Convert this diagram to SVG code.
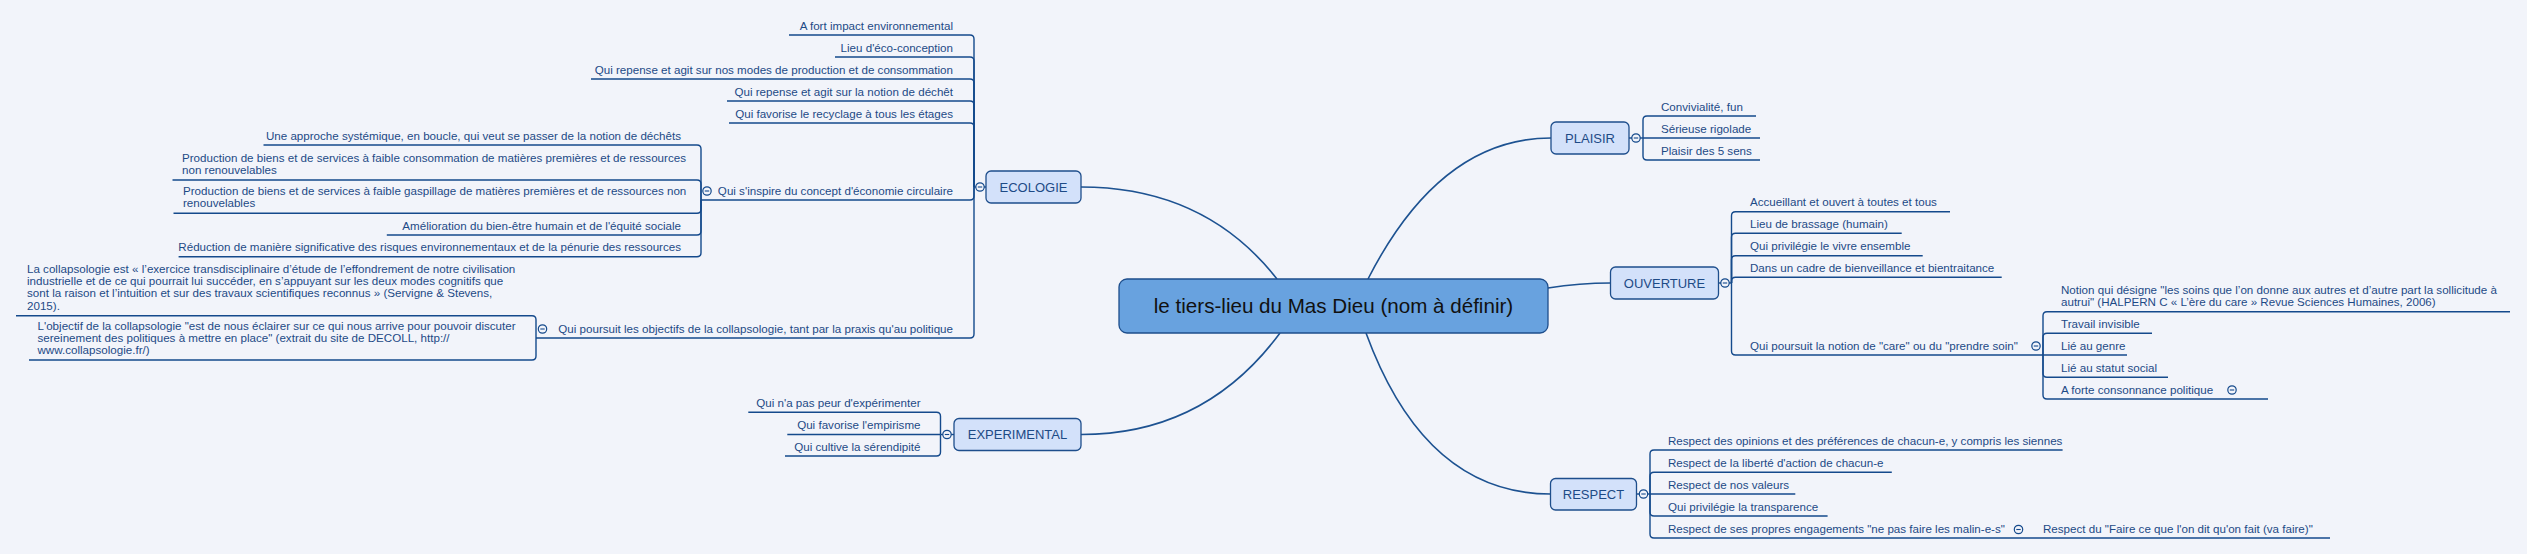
<svg xmlns="http://www.w3.org/2000/svg" width="2527" height="554" viewBox="0 0 2527 554">
<style>
.t{font-family:"Liberation Sans",Arial,sans-serif;font-size:11.6px;fill:#1d4a86}
.e{text-anchor:end}
.ln{fill:none;stroke:#154a8c;stroke-width:1.4}
.cl{fill:none;stroke:#1d5291;stroke-width:1.6}
.box{fill:#d3e1fa;stroke:#1e4e8c;stroke-width:1.3}
.bt{font-family:"Liberation Sans",Arial,sans-serif;font-size:13px;fill:#1d4a86;text-anchor:middle}
.ct{font-family:"Liberation Sans",Arial,sans-serif;font-size:20.6px;fill:#111;text-anchor:middle}
.ci{fill:#f2f4fa;stroke:#154a8c;stroke-width:1.2}
.mi{stroke:#154a8c;stroke-width:1.1}
</style>
<rect width="2527" height="554" fill="#f2f4fa"/>
<g id="connectors">
<path class="cl" d="M1277,279 Q1205,187 1081,187"/>
<path class="cl" d="M1280,333 Q1205,434.5 1081,434.5"/>
<path class="cl" d="M1368,279 Q1440,138 1551,138"/>
<path class="cl" d="M1366,333 Q1425,494 1550.5,494"/>
<path class="cl" d="M1548,288 Q1580,283 1610.5,283"/>
<!-- ECOLOGIE -->
<path class="ln" d="M986,187 H974"/>
<path class="ln" d="M789,35 H970 Q974,35 974,39 V187"/>
<path class="ln" d="M835,57 H970 Q974,57 974,61 V187"/>
<path class="ln" d="M591,79 H970 Q974,79 974,83 V187"/>
<path class="ln" d="M727,101 H970 Q974,101 974,105 V187"/>
<path class="ln" d="M729,123 H970 Q974,123 974,127 V187"/>
<path class="ln" d="M701,200 H970 Q974,200 974,196 V187"/>
<path class="ln" d="M536,338 H970 Q974,338 974,334 V187"/>
<path class="ln" d="M263.5,145 H697 Q701,145 701,149 V200"/>
<path class="ln" d="M172.5,180 H697 Q701,180 701,184 V200"/>
<path class="ln" d="M173.5,213.3 H697 Q701,213.3 701,209.3 V200"/>
<path class="ln" d="M386.8,235 H697 Q701,235 701,231 V200"/>
<path class="ln" d="M178.6,256.7 H697 Q701,256.7 701,252.7 V200"/>
<path class="ln" d="M16,315.7 H532 Q536,315.7 536,319.7 V338"/>
<path class="ln" d="M29,360 H532 Q536,360 536,356 V338"/>
<!-- EXPERIMENTAL -->
<path class="ln" d="M954,434.5 H940.5"/>
<path class="ln" d="M748.3,412.3 H936.5 Q940.5,412.3 940.5,416.3 V434.5"/>
<path class="ln" d="M787.3,434.5 H940.5"/>
<path class="ln" d="M785,456 H936.5 Q940.5,456 940.5,452 V434.5"/>
<!-- PLAISIR -->
<path class="ln" d="M1629,138 H1643"/>
<path class="ln" d="M1756,116 H1647 Q1643,116 1643,120 V138"/>
<path class="ln" d="M1760,138 H1643"/>
<path class="ln" d="M1760,160 H1647 Q1643,160 1643,156 V138"/>
<!-- OUVERTURE -->
<path class="ln" d="M1718.5,283 H1731.5"/>
<path class="ln" d="M1950,211.7 H1735.5 Q1731.5,211.7 1731.5,215.7 V283"/>
<path class="ln" d="M1901.7,233.3 H1735.5 Q1731.5,233.3 1731.5,237.3 V283"/>
<path class="ln" d="M1922.7,255.7 H1735.5 Q1731.5,255.7 1731.5,259.7 V283"/>
<path class="ln" d="M2001.7,277.3 H1735.5 Q1731.5,277.3 1731.5,281.3 V283"/>
<path class="ln" d="M2043,355 H1735.5 Q1731.5,355 1731.5,351 V283"/>
<path class="ln" d="M2510,311.7 H2047 Q2043,311.7 2043,315.7 V355"/>
<path class="ln" d="M2152,333.3 H2047 Q2043,333.3 2043,337.3 V355"/>
<path class="ln" d="M2127,355 H2043"/>
<path class="ln" d="M2168,377.3 H2047 Q2043,377.3 2043,373.3 V355"/>
<path class="ln" d="M2268,399 H2047 Q2043,399 2043,395 V355"/>
<!-- RESPECT -->
<path class="ln" d="M1636.5,494 H1650"/>
<path class="ln" d="M2062.6,450 H1654 Q1650,450 1650,454 V494"/>
<path class="ln" d="M1891.8,472.3 H1654 Q1650,472.3 1650,476.3 V494"/>
<path class="ln" d="M1795.3,494 H1650"/>
<path class="ln" d="M1827.6,516 H1654 Q1650,516 1650,512 V494"/>
<path class="ln" d="M2025,538 H1654 Q1650,538 1650,534 V494"/>
<path class="ln" d="M2330,538 H2025"/>
<!-- collapse circles -->
<g>
<circle class="ci" cx="980" cy="187" r="4.2"/><path class="mi" d="M977.8,187 H982.2"/>
<circle class="ci" cx="707" cy="191" r="4.2"/><path class="mi" d="M704.8,191 H709.2"/>
<circle class="ci" cx="542.5" cy="329" r="4.2"/><path class="mi" d="M540.3,329 H544.7"/>
<circle class="ci" cx="947" cy="434.5" r="4.2"/><path class="mi" d="M944.8,434.5 H949.2"/>
<circle class="ci" cx="1636" cy="138" r="4.2"/><path class="mi" d="M1633.8,138 H1638.2"/>
<circle class="ci" cx="1725" cy="283" r="4.2"/><path class="mi" d="M1722.8,283 H1727.2"/>
<circle class="ci" cx="2036" cy="346" r="4.2"/><path class="mi" d="M2033.8,346 H2038.2"/>
<circle class="ci" cx="2232" cy="390" r="4.2"/><path class="mi" d="M2229.8,390 H2234.2"/>
<circle class="ci" cx="1643.5" cy="494" r="4.2"/><path class="mi" d="M1641.3,494 H1645.7"/>
<circle class="ci" cx="2018.5" cy="529.5" r="4.2"/><path class="mi" d="M2016.3,529.5 H2020.7"/>
</g>
</g>
<g id="center">
<rect x="1119" y="279" width="429" height="54" rx="8" fill="#68a2df" stroke="#1e4e8c" stroke-width="1.3"/>
<text class="ct" x="1333.5" y="313">le tiers-lieu du Mas Dieu (nom à définir)</text>
</g>
<g id="ecologie">
<rect class="box" x="986" y="171" width="95" height="32" rx="5"/>
<text class="bt" x="1033.5" y="192">ECOLOGIE</text>
</g>
<g id="eco-children">
<text class="t e" x="953" y="29.5">A fort impact environnemental</text>
<text class="t e" x="953" y="51.5">Lieu d'éco-conception</text>
<text class="t e" x="953" y="73.5">Qui repense et agit sur nos modes de production et de consommation</text>
<text class="t e" x="953" y="95.5">Qui repense et agit sur la notion de déchêt</text>
<text class="t e" x="953" y="117.5">Qui favorise le recyclage à tous les étages</text>
<text class="t e" x="953" y="194.5">Qui s'inspire du concept d'économie circulaire</text>
<text class="t e" x="953" y="332.5">Qui poursuit les objectifs de la collapsologie, tant par la praxis qu'au politique</text>
</g>
<g id="circulaire-children">
<text class="t e" x="681" y="139.5">Une approche systémique, en boucle, qui veut se passer de la notion de déchêts</text>
<text class="t" x="182" y="161.7">Production de biens et de services à faible consommation de matières premières et de ressources<tspan x="182" y="174">non renouvelables</tspan></text>
<text class="t" x="183" y="195">Production de biens et de services à faible gaspillage de matières premières et de ressources non<tspan x="183" y="207.3">renouvelables</tspan></text>
<text class="t e" x="681" y="229.5">Amélioration du bien-être humain et de l'équité sociale</text>
<text class="t e" x="681" y="251.2">Réduction de manière significative des risques environnementaux et de la pénurie des ressources</text>
</g>
<g id="collapso-children">
<text class="t" x="27" y="273">La collapsologie est « l’exercice transdisciplinaire d’étude de l’effondrement de notre civilisation<tspan x="27" y="285.2">industrielle et de ce qui pourrait lui succéder, en s’appuyant sur les deux modes cognitifs que</tspan><tspan x="27" y="297.4">sont la raison et l’intuition et sur des travaux scientifiques reconnus » (Servigne &amp; Stevens,</tspan><tspan x="27" y="309.6">2015).</tspan></text>
<text class="t" x="37.5" y="329.6">L'objectif de la collapsologie "est de nous éclairer sur ce qui nous arrive pour pouvoir discuter<tspan x="37.5" y="341.8">sereinement des politiques à mettre en place" (extrait du site de DECOLL, http://</tspan><tspan x="37.5" y="354">www.collapsologie.fr/)</tspan></text>
</g>
<g id="experimental">
<rect class="box" x="954" y="418.5" width="127" height="32" rx="5"/>
<text class="bt" x="1017.5" y="439">EXPERIMENTAL</text>
</g>
<g id="exp-children">
<text class="t e" x="920.5" y="406.8">Qui n'a pas peur d'expérimenter</text>
<text class="t e" x="920.5" y="429">Qui favorise l'empirisme</text>
<text class="t e" x="920.5" y="450.5">Qui cultive la sérendipité</text>
</g>
<g id="plaisir">
<rect class="box" x="1551" y="122" width="78" height="32" rx="5"/>
<text class="bt" x="1590" y="143">PLAISIR</text>
</g>
<g id="plaisir-children">
<text class="t" x="1661" y="110.5">Convivialité, fun</text>
<text class="t" x="1661" y="132.5">Sérieuse rigolade</text>
<text class="t" x="1661" y="154.5">Plaisir des 5 sens</text>
</g>
<g id="ouverture">
<rect class="box" x="1610.5" y="267" width="108" height="32" rx="5"/>
<text class="bt" x="1664.5" y="288">OUVERTURE</text>
</g>
<g id="ouverture-children">
<text class="t" x="1750" y="206.2">Accueillant et ouvert à toutes et tous</text>
<text class="t" x="1750" y="227.8">Lieu de brassage (humain)</text>
<text class="t" x="1750" y="250.2">Qui privilégie le vivre ensemble</text>
<text class="t" x="1750" y="271.8">Dans un cadre de bienveillance et bientraitance</text>
<text class="t" x="1750" y="349.5">Qui poursuit la notion de "care" ou du "prendre soin"</text>
</g>
<g id="care-children">
<text class="t" x="2061" y="293.5">Notion qui désigne "les soins que l’on donne aux autres et d’autre part la sollicitude à<tspan x="2061" y="305.7">autrui" (HALPERN C « L’ère du care » Revue Sciences Humaines, 2006)</tspan></text>
<text class="t" x="2061" y="327.8">Travail invisible</text>
<text class="t" x="2061" y="349.5">Lié au genre</text>
<text class="t" x="2061" y="371.8">Lié au statut social</text>
<text class="t" x="2061" y="393.5">A forte consonnance politique</text>
</g>
<g id="respect">
<rect class="box" x="1550.5" y="478.5" width="86" height="31.5" rx="5"/>
<text class="bt" x="1593.5" y="499">RESPECT</text>
</g>
<g id="respect-children">
<text class="t" x="1668" y="444.5">Respect des opinions et des préférences de chacun-e, y compris les siennes</text>
<text class="t" x="1668" y="466.8">Respect de la liberté d'action de chacun-e</text>
<text class="t" x="1668" y="488.5">Respect de nos valeurs</text>
<text class="t" x="1668" y="510.5">Qui privilégie la transparence</text>
<text class="t" x="1668" y="532.5">Respect de ses propres engagements "ne pas faire les malin-e-s"</text>
<text class="t" x="2043" y="532.5">Respect du "Faire ce que l'on dit qu'on fait (va faire)"</text>
</g>
</svg>
